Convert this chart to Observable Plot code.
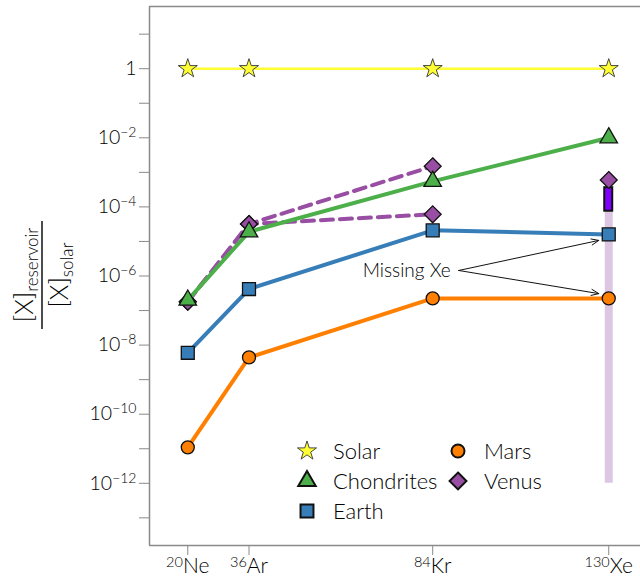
<!DOCTYPE html>
<html><head><meta charset="utf-8">
<script src="https://cdn.jsdelivr.net/npm/d3@7"></script>
<script src="https://cdn.jsdelivr.net/npm/@observablehq/plot@0.6"></script>
<style>
html,body{margin:0;padding:0;background:#fff;}
#chart{position:relative;width:640px;height:581px;overflow:hidden;}
#chart svg text{font-weight:300;fill:#000;}
</style></head><body><div id="chart"></div>
<script>
// ---- data ----
const isotopes = ["Ne", "Ar", "Kr", "Xe"];
const masses = [20, 36, 84, 130];
const solar = [1, 1, 1, 1];
const chondrites = [2e-7, 1.9e-5, 5.5e-4, 1e-2];
const earth = [6e-9, 4.2e-7, 2.1e-5, 1.6e-5];
const mars = [1.1e-11, 4.4e-9, 2.25e-7, 2.25e-7];
const venusHigh = [1.8e-7, 3.2e-5, 1.5e-3];   // Ne, Ar, Kr (upper)
const venusLow = [1.8e-7, 3.2e-5, 6.1e-5];    // Ne, Ar, Kr (lower)
const venusXe = [6e-4];
const venusXeBar = [7.5e-5, 3.6e-4];
const missingXeBand = [1e-12, 1e-4];
const yTickExponents = [1, 0, -1, -2, -3, -4, -5, -6, -7, -8, -9, -10, -11, -12, -13];
const seriesNames = ["Solar", "Chondrites", "Earth", "Mars", "Venus"];
const seriesColors = ["#ffff33", "#4daf4a", "#377eb8", "#ff7f00", "#984ea3"];
const seriesSymbols = ["star", "triangle", "square", "circle", "diamond2"];
const annotationText = "Missing Xe";
const annotationFrom = [90.8, 10 ** -5.84];
const annotationTo = [[127.4, 10 ** -4.97], [127.4, 10 ** -6.51]];

// ---- build ----
const FONT = "Lato, 'Open Sans', sans-serif";
const dotR = {Solar: 6, Chondrites: 6.5, Earth: 7.3, Mars: 6.5, Venus: 7.6};
const color = Object.fromEntries(seriesNames.map((s, i) => [s, seriesColors[i]]));
const sym = Object.fromEntries(seriesNames.map((s, i) => [s, seriesSymbols[i]]));
const mainSeries = [["Solar", solar], ["Chondrites", chondrites], ["Earth", earth], ["Mars", mars]];
const rows = mainSeries.flatMap(([s, vals]) => vals.map((v, i) => ({series: s, mass: masses[i], value: v})));
const venusRows = [
  ...venusHigh.map((v, i) => ({branch: "high", mass: masses[i], value: v})),
  ...venusLow.map((v, i) => ({branch: "low", mass: masses[i], value: v}))
];
const venusXeRow = [{mass: masses[3], value: venusXe[0]}];
const yMin = 10 ** -13.8, yMax = 10 ** 1.8, xMin = 10, xMax = 138.3;
const frameColor = "#8a8a8a";

const lineOrder = ["Mars", "Earth", "Chondrites", "Solar"];
const lineMarks = lineOrder.map(s => Plot.line(rows.filter(d => d.series === s), {
  x: "mass", y: "value", stroke: color[s], strokeWidth: s === "Solar" ? 2.5 : 4
}));
const dotMarks = lineOrder.map(s => Plot.dot(rows.filter(d => d.series === s), {
  x: "mass", y: "value", symbol: sym[s], r: dotR[s], fill: color[s],
  stroke: s === "Solar" ? "#333" : "#111", strokeWidth: s === "Solar" ? 0.9 : 1.3
}));

const chart = Plot.plot({
  width: 640, height: 581,
  marginLeft: 149, marginRight: 0, marginTop: 6, marginBottom: 36,
  x: {domain: [xMin, xMax]},
  y: {type: "log", domain: [yMin, yMax]},
  style: {fontFamily: FONT, color: "#000", background: "white"},
  marks: [
    Plot.ruleX([{m: masses[3], y1: missingXeBand[0], y2: missingXeBand[1]}],
      {x: "m", y1: "y1", y2: "y2", stroke: "#dcc6e1", strokeWidth: 8}),
    Plot.line(venusRows, {x: "mass", y: "value", z: "branch", stroke: color.Venus, strokeWidth: 4, strokeDasharray: "12,7"}),
    Plot.dot(venusRows, {x: "mass", y: "value", symbol: sym.Venus, r: dotR.Venus, fill: color.Venus, stroke: "#111", strokeWidth: 1.3}),
    ...lineMarks,
    ...dotMarks,
    Plot.rect([{m: masses[3], y1: venusXeBar[0], y2: venusXeBar[1]}],
      {x1: "m", x2: "m", y1: "y1", y2: "y2", insetLeft: -4, insetRight: -4, fill: "#8000ff", stroke: "#111", strokeWidth: 2}),
    Plot.dot(venusXeRow, {x: "mass", y: "value", symbol: sym.Venus, r: dotR.Venus, fill: color.Venus, stroke: "#111", strokeWidth: 1.3}),
    Plot.arrow(annotationTo, {x1: () => annotationFrom[0], y1: () => annotationFrom[1], x2: d => d[0], y2: d => d[1],
      stroke: "#111", strokeWidth: 1, headLength: 12, headAngle: 45}),
    Plot.text([annotationText], {x: () => 88.7, y: () => annotationFrom[1], text: d => d, textAnchor: "end", fontSize: 19, fill: "#000"}),
    // frame
    Plot.ruleY([yMin, yMax], {x1: xMin, x2: xMax, stroke: frameColor, strokeWidth: 1.5}),
    Plot.ruleX([xMin], {y1: yMin, y2: yMax, stroke: frameColor, strokeWidth: 1.5}),
    Plot.axisX({ticks: masses, tickFormat: d => masses.indexOf(d) + "|" , tickSize: 10, tickPadding: 3,
      stroke: frameColor, label: null}),
    Plot.axisY({ticks: yTickExponents.map(e => 10 ** e), tickFormat: d => {
        const e = Math.round(Math.log10(d));
        if (e % 2 !== 0) return "";
        return e === 0 ? "1" : "10^" + e;
      }, tickSize: 10, tickPadding: 3, stroke: frameColor, label: null})
  ]
});
document.getElementById("chart").appendChild(chart);

const svg = d3.select(chart);
// x tick labels with superscript mass numbers
svg.selectAll('[aria-label="x-axis tick label"] text').each(function () {
  const i = +this.textContent.split("|")[0];
  this.textContent = "";
  const t = d3.select(this);
  t.attr("dy", "0.9em").style("font-size", "20px");
  t.append("tspan").style("font-size", "14.5px").attr("dy", -6).text(masses[i]);
  t.append("tspan").style("font-size", "21px").attr("dy", 6).text(isotopes[i]);
});
// y tick labels with superscript exponents
svg.selectAll('[aria-label="y-axis tick label"] text').each(function () {
  const s = this.textContent;
  const t = d3.select(this);
  t.style("font-size", "19.5px");
  if (!s.startsWith("10^")) return;
  const e = s.slice(3).replace("-", "\u2212");
  this.textContent = "";
  t.append("tspan").text("10");
  t.append("tspan").style("font-size", "14px").attr("dy", -7).text(e);
});

// y axis label (fraction)
const yl = svg.append("g").attr("transform", "translate(42,275) rotate(-90)")
  .attr("font-family", FONT);
const num = yl.append("text").attr("text-anchor", "middle").attr("y", -9).style("font-size", "25px");
num.append("tspan").text("[X]");
num.append("tspan").style("font-size", "17px").attr("dy", 5).text("reservoir");
yl.append("line").attr("x1", -54).attr("x2", 54).attr("y1", 0).attr("y2", 0).attr("stroke", "#111").attr("stroke-width", 1.5);
const den = yl.append("text").attr("text-anchor", "middle").attr("y", 26).style("font-size", "25px");
den.append("tspan").text("[X]");
den.append("tspan").style("font-size", "17px").attr("dy", 5).text("solar");

// legend
const legendPos = {Solar: [307, 451], Chondrites: [307, 481], Earth: [307, 511], Mars: [458, 451], Venus: [458, 481]};
const d3sym = {star: d3.symbolStar, triangle: d3.symbolTriangle, square: d3.symbolSquare, circle: d3.symbolCircle, diamond2: d3.symbolDiamond2};
const lg = svg.append("g").attr("font-family", FONT);
seriesNames.forEach(s => {
  const [x, y] = legendPos[s];
  const r = dotR[s];
  lg.append("path").attr("transform", `translate(${x},${y})`)
    .attr("d", d3.symbol(d3sym[sym[s]], r * r * Math.PI)())
    .attr("fill", color[s]).attr("stroke", s === "Solar" ? "#333" : "#111").attr("stroke-width", s === "Solar" ? 0.9 : 2);
  lg.append("text").attr("x", x + 26).attr("y", y + 7.5).attr("text-anchor", "start")
    .style("font-size", "22px").text(s);
});
</script></body></html>
